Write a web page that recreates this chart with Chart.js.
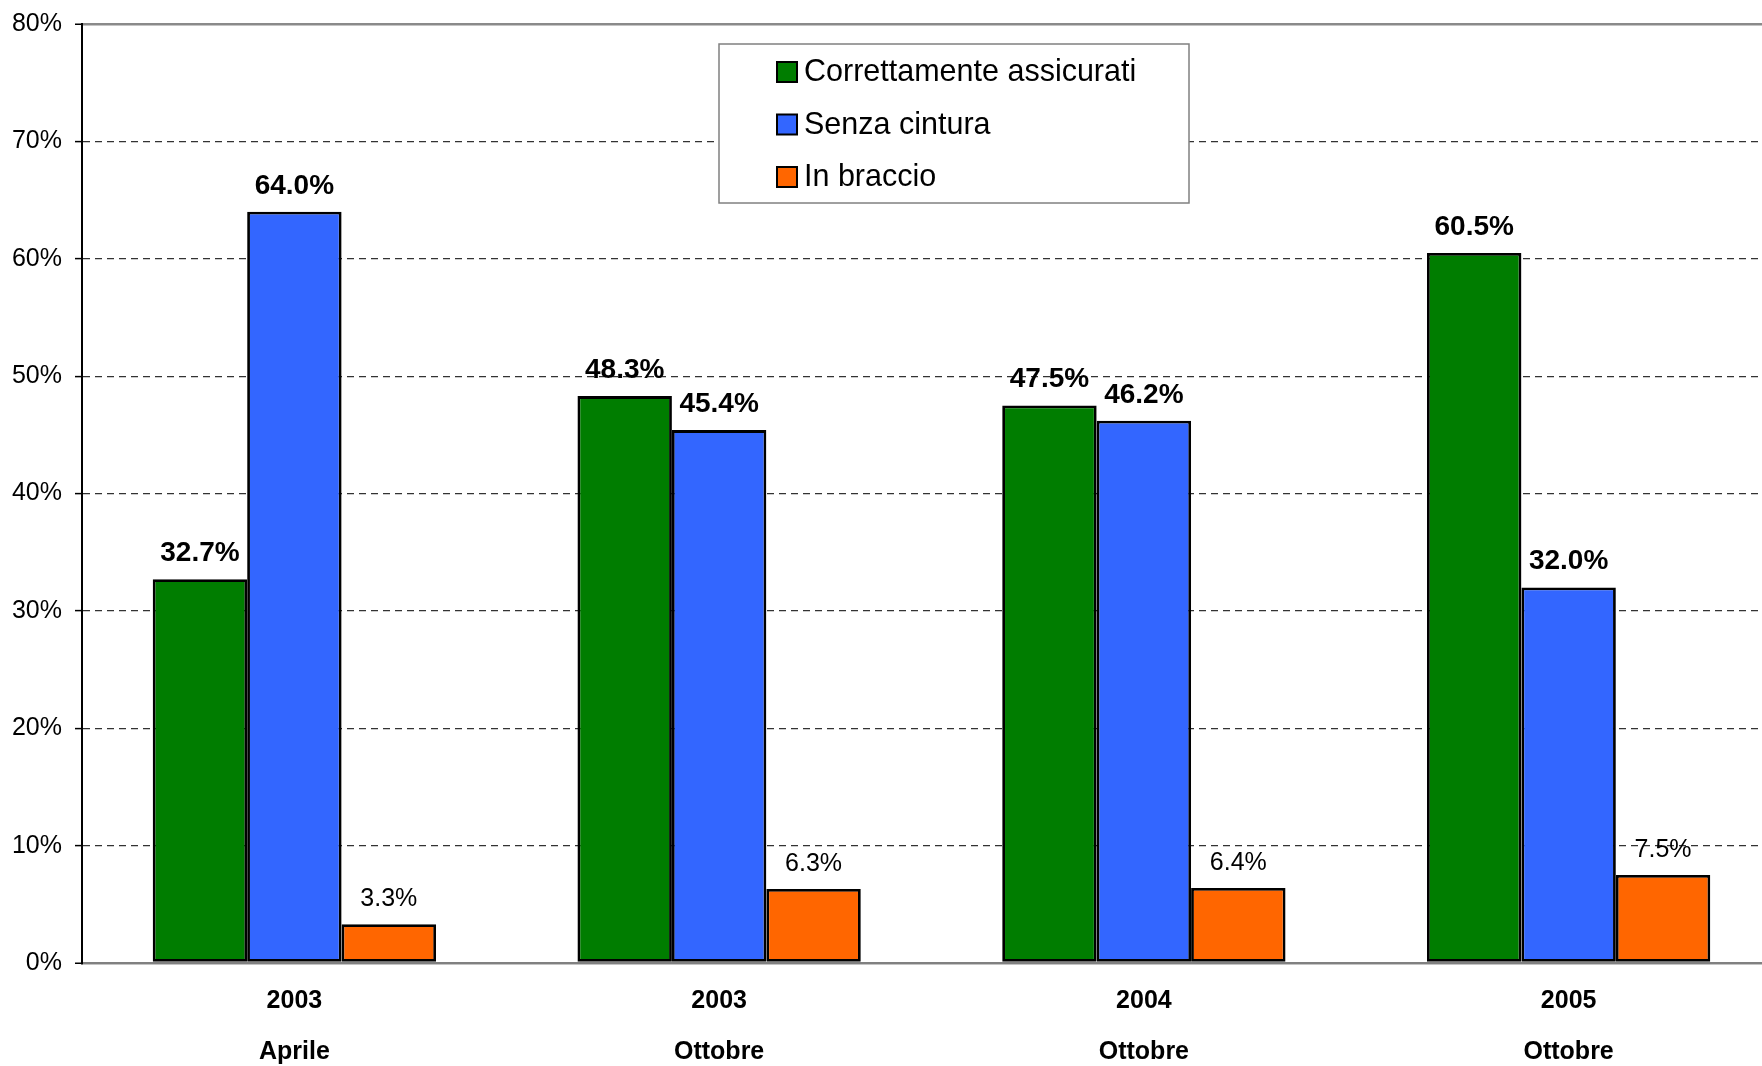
<!DOCTYPE html>
<html>
<head>
<meta charset="utf-8">
<script src="https://cdn.jsdelivr.net/npm/chart.js@4/dist/chart.umd.min.js"></script>
<style>
  html, body { margin: 0; padding: 0; background: #fff; overflow: hidden; }
  canvas { display: block; }
</style>
</head>
<body>
<canvas id="myChart" width="1790" height="1066"></canvas>
<script>
// data
const categories = [['2003', 'Aprile'], ['2003', 'Ottobre'], ['2004', 'Ottobre'], ['2005', 'Ottobre']];
const seriesNames = ['Correttamente assicurati', 'Senza cintura', 'In braccio'];
const corretti = [32.7, 48.3, 47.5, 60.5];
const senzaCintura = [64.0, 45.4, 46.2, 32.0];
const inBraccio = [3.3, 6.3, 6.4, 7.5];
const yTicks = [0, 10, 20, 30, 40, 50, 60, 70, 80];

const FONT = '"Liberation Sans", Arial, sans-serif';
const colors = ['#007D00', '#3366FF', '#FF6600'];

//labels on top of the bars
const barLabels = {
  id: 'barLabels',
  afterDatasetsDraw(chart) {
    const ctx = chart.ctx;
    ctx.save();
    ctx.fillStyle = '#000';
    ctx.textAlign = 'center';
    ctx.textBaseline = 'alphabetic';
    chart.data.datasets.forEach((ds, i) => {
      const meta = chart.getDatasetMeta(i);
      ctx.font = i < 2 ? 'bold 28px ' + FONT : '25px ' + FONT;
      meta.data.forEach((bar, j) => {
        ctx.fillText(ds.data[j].toFixed(1) + '%', bar.x, bar.y - 18);
      });
    });
    ctx.restore();
  }
};

//legend box inside the plot
const boxLegend = {
  id: 'boxLegend',
  afterDraw(chart) {
    const ctx = chart.ctx;
    ctx.save();
    ctx.fillStyle = '#fff';
    ctx.fillRect(719, 44, 470, 159);
    ctx.strokeStyle = '#808080';
    ctx.lineWidth = 1.5;
    ctx.strokeRect(719, 44, 470, 159);
    ctx.font = '30.5px ' + FONT;
    ctx.textBaseline = 'middle';
    ctx.textAlign = 'left';
    chart.data.datasets.forEach((ds, i) => {
      const y = 72 + i * 52.5;
      ctx.fillStyle = ds.backgroundColor;
      ctx.fillRect(777, y - 10, 20, 20);
      ctx.strokeStyle = '#000';
      ctx.lineWidth = 2;
      ctx.strokeRect(777, y - 10, 20, 20);
      ctx.fillStyle = '#000';
      ctx.fillText(ds.label, 804, y + 1);
    });
    ctx.restore();
  }
};

const data = {
  labels: categories,
  datasets: [corretti, senzaCintura, inBraccio].map((vals, i) => ({
    label: seriesNames[i],
    data: vals,
    backgroundColor: colors[i],
    borderColor: '#000',
    borderWidth: 2.8,
    borderSkipped: false,
    barPercentage: 1,
    categoryPercentage: 0.667
  }))
};

const config = {
  type: 'bar',
  data: data,
  plugins: [barLabels, boxLegend],
  options: {
    responsive: false,
    animation: false,
    layout: { padding: { top: 24, right: 9, left: 0, bottom: 0 } },
    plugins: {
      legend: { display: false },
      tooltip: { enabled: false }
    },
    scales: {
      x: {
        afterFit: (s) => { s.height = 103; },
        grid: { display: false, drawTicks: false },
        border: { display: true, color: '#808080', width: 2 },
        ticks: {
          color: '#000',
          padding: 13,
          maxRotation: 0,
          font: { family: FONT, size: 25, weight: 'bold', lineHeight: 2.04 }
        }
      },
      y: {
        min: 0,
        max: 80,
        afterFit: (s) => { s.width = 82; },
        afterBuildTicks: (s) => { s.ticks = yTicks.map(v => ({ value: v })); },
        grid: {
          color: (c) => (c.tick && (c.tick.value === 80 || c.tick.value === 0)) ? '#8a8a8a' : '#333',
          lineWidth: (c) => (c.tick && (c.tick.value === 80 || c.tick.value === 0)) ? 2.5 : 1.2,
          tickLength: 7,
          tickColor: '#000',
          tickWidth: 1.5,
          tickBorderDash: []
        },
        border: {
          color: '#000',
          width: 2,
          dash: (c) => (c.tick && (c.tick.value === 80 || c.tick.value === 0)) ? [] : [7, 5]
        },
        ticks: {
          color: '#000',
          padding: 13,
          font: { family: FONT, size: 25, lineHeight: 0.8 },
          callback: (v) => v + '%'
        }
      }
    }
  }
};

const barChart = new Chart(document.getElementById('myChart'), config);
</script>
</body>
</html>
